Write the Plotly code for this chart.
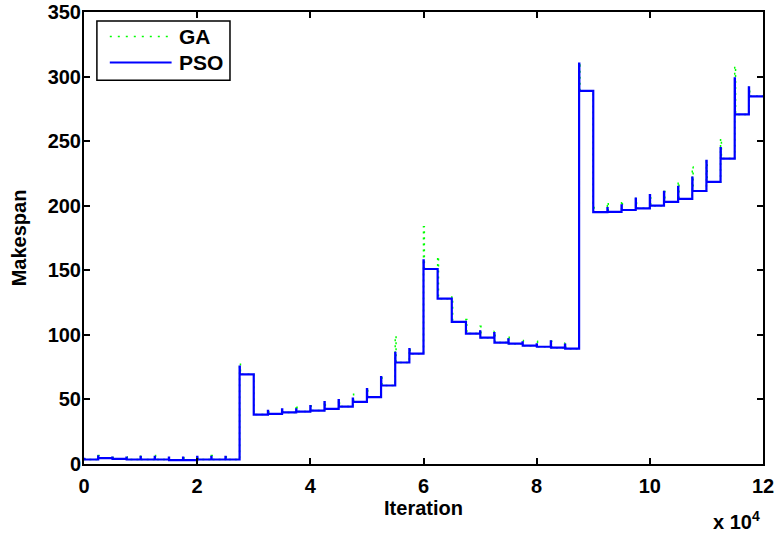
import plotly.graph_objects as go

# Each run of the scheduler lasts this many iterations; runs are concatenated.
ITERS_PER_RUN = 2500
TOTAL_ITERS = 120000
run_start = list(range(0, TOTAL_ITERS, ITERS_PER_RUN))

# Best makespan reached by PSO in each run
pso_level = [3.5, 4.5, 4.0, 3.5, 3.5, 3.5, 3.0, 3.0, 3.5, 3.5, 3.5, 69.4,
             38.3, 38.8, 39.9, 40.6, 41.4, 42.7, 44.5, 48.1, 51.8, 60.8, 78.6, 85.4,
             151.0, 128.0, 110.0, 101.0, 97.8, 94.0, 93.2, 91.6, 90.8, 90.1, 89.3, 289.0,
             195.0, 195.3, 196.7, 198.0, 200.0, 203.0, 205.3, 211.4, 218.4, 236.5, 270.7, 284.7]
# Initial makespan of PSO at the start of each run
pso_peak = [4.0, 6.0, 5.0, 5.0, 5.5, 5.5, 5.0, 5.0, 5.5, 5.5, 5.5, 75.5,
            38.3, 41.1, 42.4, 42.4, 44.8, 47.9, 49.4, 50.7, 58.0, 67.3, 86.0, 89.0,
            157.6, 128.0, 110.0, 101.0, 102.7, 101.4, 96.5, 94.2, 92.6, 95.0, 92.4, 310.0,
            195.0, 198.2, 200.3, 205.5, 208.3, 210.7, 214.6, 221.8, 234.7, 244.6, 298.7, 291.7]
# Best makespan reached by GA in each run
ga_level = [3.5, 4.5, 4.0, 3.5, 3.5, 3.5, 3.0, 3.0, 3.5, 3.5, 3.5, 69.4,
            38.3, 38.8, 39.9, 40.6, 41.4, 42.7, 44.5, 48.1, 51.8, 60.8, 78.6, 85.4,
            151.0, 128.0, 110.0, 101.0, 97.8, 94.0, 93.2, 91.6, 90.8, 90.1, 89.3, 289.0,
            195.0, 195.3, 196.7, 198.0, 200.0, 203.0, 205.3, 211.4, 218.4, 236.5, 270.7, 284.7]
# Initial makespan of GA at the start of each run
ga_peak = [4.0, 6.5, 5.0, 5.5, 6.5, 6.5, 5.5, 5.5, 6.5, 6.5, 6.5, 78.0,
           38.3, 41.5, 42.5, 45.5, 45.0, 48.0, 49.5, 54.0, 58.0, 67.5, 99.0, 89.0,
           183.7, 160.5, 129.4, 111.8, 106.6, 102.7, 99.4, 95.7, 95.0, 95.0, 93.7, 309.0,
           202.0, 202.6, 203.7, 205.5, 208.5, 211.0, 218.4, 230.0, 234.7, 251.8, 308.0, 291.7]

x_ticks = [0, 20000, 40000, 60000, 80000, 100000, 120000]
x_tick_text = ["0", "2", "4", "6", "8", "10", "12"]
y_ticks = [0, 50, 100, 150, 200, 250, 300, 350]

# Iterations an algorithm needs to fall from its initial value to its best value
PSO_SETTLE = 40
GA_SETTLE = 150


def convergence_path(peaks, levels, settle):
    xs, ys = [], []
    for start, peak, level in zip(run_start, peaks, levels):
        xs += [start, start + settle]
        ys += [peak, level]
    xs.append(TOTAL_ITERS)
    ys.append(levels[-1])
    return xs, ys


FONT = "Liberation Sans, Arial, Helvetica, sans-serif"
BLUE = "#0000ff"
GREEN = "#00ff00"
TEXT = dict(family=FONT, size=20, color="black", weight="bold")

ga_x, ga_y = convergence_path(ga_peak, ga_level, GA_SETTLE)
pso_x, pso_y = convergence_path(pso_peak, pso_level, PSO_SETTLE)

fig = go.Figure()
fig.add_trace(go.Scatter(x=ga_x, y=ga_y, mode="lines", name="GA", line_shape="hv",
                         line=dict(color=GREEN, width=1.5, dash="2px,4px")))
fig.add_trace(go.Scatter(x=pso_x, y=pso_y, mode="lines", name="PSO", line_shape="hv",
                         line=dict(color=BLUE, width=2.2)))

axis_common = dict(
    showline=True, linewidth=2, linecolor="black", mirror="ticks",
    ticks="inside", ticklen=6, tickwidth=2, tickcolor="black",
    showgrid=False, zeroline=False, automargin=False,
    tickfont=TEXT,
)

fig.update_layout(
    width=776, height=533,
    margin=dict(l=84, r=13, t=12, b=69),
    paper_bgcolor="white", plot_bgcolor="white",
    showlegend=False,
    xaxis=dict(range=[0, TOTAL_ITERS], tickvals=x_ticks, ticktext=x_tick_text,
               ticklabelstandoff=3,
               title=dict(text="Iteration", standoff=3, font=TEXT),
               **axis_common),
    yaxis=dict(range=[0, 350], tickvals=y_ticks, ticklabelstandoff=-3,
               title=dict(text="Makespan", standoff=16, font=TEXT),
               **axis_common),
)

# Exponent of the iteration axis
fig.add_annotation(text="x 10<sup>4</sup>", xref="paper", yref="paper",
                   x=0.998, y=-0.126, xanchor="right", yanchor="middle", showarrow=False,
                   font=TEXT)

# Legend box drawn in the upper-left corner of the axes
fig.add_shape(type="rect", xref="paper", yref="paper", x0=0.019, x1=0.215, y0=0.849, y1=0.98,
              line=dict(color="black", width=1.5), fillcolor="white", layer="above")
legend_rows = [("GA", GREEN, "2px,6px", 0.946), ("PSO", BLUE, "solid", 0.888)]
for label, color, dash, yrow in legend_rows:
    fig.add_shape(type="line", xref="paper", yref="paper", x0=0.038, x1=0.129, y0=yrow, y1=yrow,
                  line=dict(color=color, width=2 if dash == "solid" else 1.5, dash=dash),
                  layer="above")
    fig.add_annotation(text=label, xref="paper", yref="paper", x=0.137, y=yrow,
                       xanchor="left", yanchor="middle", showarrow=False,
                       font=dict(family=FONT, size=21, color="black", weight="bold"))

fig.write_html("out.html")
